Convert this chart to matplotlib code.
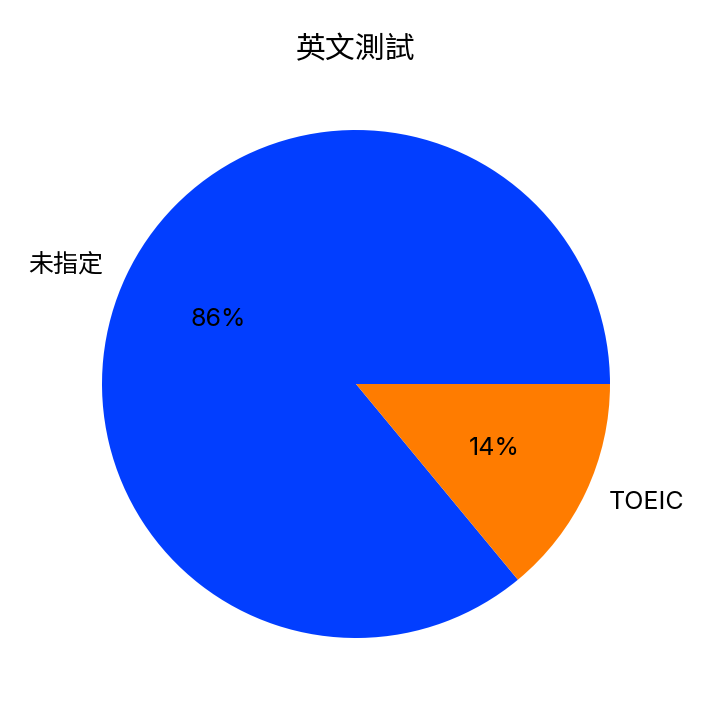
import matplotlib
matplotlib.use('Agg')
import matplotlib.pyplot as plt

plt.rcParams['font.family'] = ['Inter', 'Noto Sans CJK TC', 'DejaVu Sans']

labels = ['未指定', 'TOEIC']
values = [86, 14]
colors = ['#023eff', '#ff7c00']

fig = plt.figure(figsize=(7.22, 7.02), dpi=100)
# pie limits are +-1.25, so radius 254 px -> axes 635 px square
ax = fig.add_axes([38.5 / 722, 0.5 / 702, 635 / 722, 635 / 702])
ax.pie(values, labels=labels, colors=colors, autopct='%.0f%%',
       textprops={'fontsize': 18})
ax.set_title('英文測試', fontsize=21.5)
ax.set_aspect('equal')
fig.savefig('out.png', dpi=100)
